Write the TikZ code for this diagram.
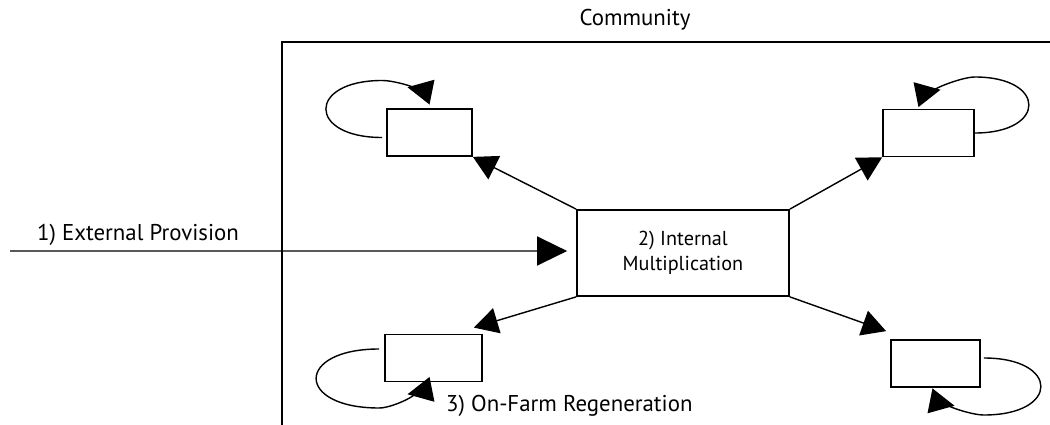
\documentclass[tikz,border=0pt]{standalone}
\usepackage{fontspec}
\setmainfont{PT Sans}
\usetikzlibrary{arrows.meta}

\begin{document}
\begin{tikzpicture}[x=0.02cm, y=-0.02cm,
    font=\fontsize{13}{16}\selectfont,
    box/.style={draw, line width=1pt, minimum height=0.94cm},
    flow/.style={line width=0.8pt, -{Triangle[length=0.48cm, width=0.52cm]}},
    loopback/.style={line width=0.8pt, -{Triangle[reversed, length=0.5cm, width=0.5cm]}}]
                \useasboundingbox (0,0) rectangle (1050,425);

                % Community frame
                \draw[line width=1pt] (282,425) -- (282,42) -- (1050,42);
                \node (community) at (635,20) {Community};

                % Nodes
                \node[box, minimum width=4.24cm, minimum height=1.72cm, align=center,
                      font=\fontsize{11.5}{14.2}\selectfont] (mult) at (683,253) {2) Internal\\Multiplication};
                \node[box, minimum width=1.7cm] (tl) at (429.5,132.5) {};  % top left farm
                \node[box, minimum width=1.82cm] (tr) at (928.5,133) {};   % top right farm
                \node[box, minimum width=1.94cm] (bl) at (433.5,358) {};   % bottom left farm
                \node[box, minimum width=1.78cm] (br) at (935.5,363.5) {}; % bottom right farm
                \coordinate (source) at (10,251);
                \node (ext) at (138,235) {1) External Provision};
                \node[anchor=west] (regen) at (440,406) {3) On-Farm Regeneration};

                % Edges
                \draw[flow, -{Triangle[length=0.6cm, width=0.58cm]}] (source) -- ([xshift=-0.18cm, yshift=0.04cm]mult.west);
                \draw[flow] (mult.north west) -- (tl.south east);
                \draw[flow] (mult.north east) -- (tr.south west);
                \draw[flow] (mult.south west) -- ([xshift=-0.18cm, yshift=0.12cm]bl.north east);
                \draw[flow] (mult.south east) -- ([xshift=-0.08cm, yshift=0.16cm]br.north west);

                % Loops
                \draw[loopback] ([xshift=-0.08cm, yshift=-0.1cm]tl.west) .. controls +(-75,0) and +(-75,0) .. ++(0,-57)
                    .. controls +(15,0) and +(-5,-1) .. ([xshift=0.05cm, yshift=0.32cm]tl.north);
                \draw[loopback] (tr.east) .. controls +(72,0) and +(72,0) .. ++(0,-56)
                    .. controls +(-15,0) and +(5,-1) .. ([xshift=-0.25cm, yshift=0.28cm]tr.north);
                \draw[loopback] ([xshift=-0.1cm, yshift=0.18cm]bl.west) .. controls +(-84,0) and +(-84,0) .. ++(0,59)
                    .. controls +(15,0) and +(-5,1) .. ([xshift=-0.03cm, yshift=-0.14cm]bl.south);
                \draw[loopback] ([xshift=0.06cm, yshift=0.11cm]br.east) .. controls +(76,0) and +(76,0) .. ++(0,57)
                    .. controls +(-15,0) and +(5,1) .. ([xshift=-0.11cm, yshift=-0.26cm]br.south);
            \end{tikzpicture}
\end{document}
